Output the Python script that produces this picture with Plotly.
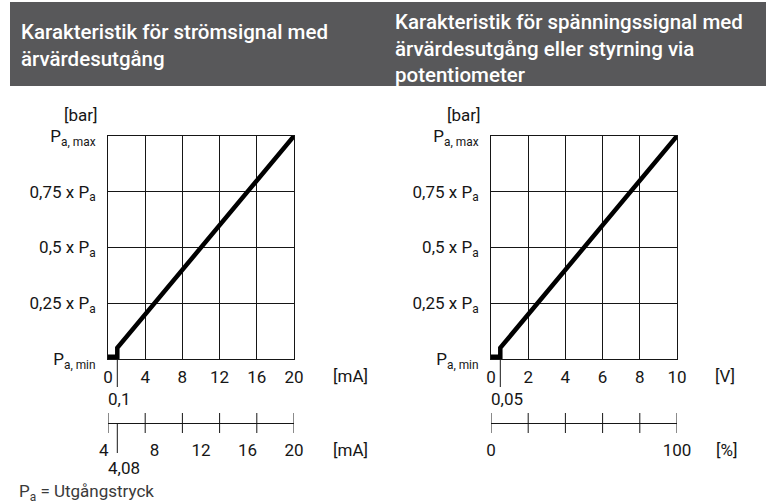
import plotly.graph_objects as go

W, H = 766, 504

# ---- data -------------------------------------------------------------
pressure_ticks = [0, 0.25, 0.5, 0.75, 1]
pressure_labels = ["P<sub>a, min</sub>", "0,25 x P<sub>a</sub>", "0,5 x P<sub>a</sub>",
                   "0,75 x P<sub>a</sub>", "P<sub>a, max</sub>"]

ma_ticks = [0, 4, 8, 12, 16, 20]
ma_labels = ["0", "4", "8", "12", "16", "20"]
ma_live_ticks = [4, 8, 12, 16, 20]
ma_live_labels = ["4\u00a0\u00a0", "8", "12", "16", "20"]

volt_ticks = [0, 2, 4, 6, 8, 10]
volt_labels = ["0", "2", "4", "6", "8", "10"]
pct_ticks = [0, 100]
pct_labels = ["0", "100"]

# characteristic curves (threshold step drawn enlarged, as in the data sheet)
ma_curve_x = [0, 1, 1, 20]
ma_curve_p = [0.01, 0.01, 0.05, 1]
volt_curve_x = [0, 0.5, 0.5, 10]
volt_curve_p = [0.01, 0.01, 0.05, 1]

ma_threshold_label = "0,1"
ma_live_threshold_label = "4,08"
volt_threshold_label = "0,05"

# ---- helpers ----------------------------------------------------------
def fx(px):
    return px / W


def fy(py):
    return 1 - py / H


INK = "#161616"
FONT = "Roboto, 'Open Sans', sans-serif"
TITLE_FONT = "Roboto, 'Open Sans', sans-serif"

fig = go.Figure()

fig.add_trace(go.Scatter(x=ma_curve_x, y=ma_curve_p, mode="lines",
                         line=dict(color="black", width=4.5),
                         xaxis="x", yaxis="y", hoverinfo="skip", showlegend=False))
fig.add_trace(go.Scatter(x=volt_curve_x, y=volt_curve_p, mode="lines",
                         line=dict(color="black", width=4.5),
                         xaxis="x2", yaxis="y2", hoverinfo="skip", showlegend=False))
# empty traces to bring the secondary scales to life
fig.add_trace(go.Scatter(x=[], y=[], xaxis="x3", yaxis="y", showlegend=False))
fig.add_trace(go.Scatter(x=[], y=[], xaxis="x4", yaxis="y2", showlegend=False))

left_dom = [fx(108), fx(294)]
right_dom = [fx(491), fx(677)]
y_dom = [fy(359), fy(136)]

grid_axis = dict(showgrid=True, gridcolor=INK, gridwidth=1, showline=True,
                 linecolor=INK, linewidth=1, mirror=True, zeroline=False,
                 ticks="", tickfont=dict(family=FONT, size=17, color=INK),
                 fixedrange=True, automargin=False)

fig.update_layout(
    width=W, height=H, autosize=False, margin=dict(l=0, r=0, t=0, b=0, pad=0),
    paper_bgcolor="white", plot_bgcolor="white", showlegend=False,
    xaxis=dict(grid_axis, domain=left_dom, range=[0, 20], anchor="y",
               tickmode="array", tickvals=ma_ticks, ticktext=ma_labels,
               ticklabelstandoff=3),
    yaxis=dict(grid_axis, domain=y_dom, range=[0, 1], anchor="x",
               tickmode="array", tickvals=pressure_ticks, ticktext=pressure_labels,
               ticklabelstandoff=8),
    xaxis2=dict(grid_axis, domain=right_dom, range=[0, 10], anchor="y2",
                tickmode="array", tickvals=volt_ticks, ticktext=volt_labels,
                ticklabelstandoff=3),
    yaxis2=dict(grid_axis, domain=y_dom, range=[0, 1], anchor="x2",
                tickmode="array", tickvals=pressure_ticks, ticktext=pressure_labels,
                ticklabelstandoff=8),
    xaxis3=dict(overlaying="x", anchor="free", position=fy(423), range=[4, 20],
                showgrid=False, zeroline=False, showline=True, linecolor=INK,
                linewidth=1, ticks="", tickmode="array", tickvals=ma_live_ticks,
                ticktext=ma_live_labels, ticklabelstandoff=12, automargin=False,
                tickfont=dict(family=FONT, size=17, color=INK), side="bottom"),
    xaxis4=dict(overlaying="x2", anchor="free", position=fy(423), range=[0, 100],
                showgrid=False, zeroline=False, showline=True, linecolor=INK,
                linewidth=1, ticks="", tickmode="array", tickvals=pct_ticks,
                ticktext=pct_labels, ticklabelstandoff=12, automargin=False,
                tickfont=dict(family=FONT, size=17, color=INK), side="bottom"),
)

shapes = []
# dark heading band
shapes.append(dict(type="rect", xref="paper", yref="paper", x0=fx(10), x1=1,
                   y0=fy(86), y1=fy(2), fillcolor="#58585a", line=dict(width=0),
                   layer="below"))
# tick marks on the secondary scales, at the main grid positions
for v in ma_ticks:
    shapes.append(dict(type="line", xref="x", yref="paper", x0=v, x1=v,
                       y0=fy(413), y1=fy(433), line=dict(color=INK, width=1)))
for v in volt_ticks:
    shapes.append(dict(type="line", xref="x2", yref="paper", x0=v, x1=v,
                       y0=fy(413), y1=fy(433), line=dict(color=INK, width=1)))
# threshold markers below the axes
shapes.append(dict(type="line", xref="x", yref="paper", x0=ma_curve_x[1], x1=ma_curve_x[1],
                   y0=fy(359), y1=fy(387), line=dict(color=INK, width=1)))
shapes.append(dict(type="line", xref="x", yref="paper", x0=ma_curve_x[1], x1=ma_curve_x[1],
                   y0=fy(423), y1=fy(453), line=dict(color=INK, width=1)))
shapes.append(dict(type="line", xref="x2", yref="paper", x0=volt_curve_x[1], x1=volt_curve_x[1],
                   y0=fy(359), y1=fy(387), line=dict(color=INK, width=1)))
fig.update_layout(shapes=shapes)

txt = dict(family=FONT, size=17, color=INK)
title_font = dict(family=TITLE_FONT, size=20.5, color="white", weight=500)
ann = []
# headings
ann.append(dict(xref="paper", yref="paper", x=fx(19), y=fy(45), xanchor="left",
                yanchor="middle", align="left", showarrow=False,
                text="Karakteristik för strömsignal med<br>ärvärdesutgång",
                font=title_font))
ann.append(dict(xref="paper", yref="paper", x=fx(393), y=fy(48), xanchor="left",
                yanchor="middle", align="left", showarrow=False,
                text="Karakteristik för spänningssignal med<br>ärvärdesutgång eller styrning via<br>potentiometer",
                font=title_font))
# units
for x, y, t in [(100, 115, "[bar]"), (483, 115, "[bar]")]:
    ann.append(dict(xref="paper", yref="paper", x=fx(x), y=fy(y), xanchor="right",
                    yanchor="middle", showarrow=False, text=t, font=txt))
for x, y, t in [(350, 376, "[mA]"), (350, 450, "[mA]"), (725, 376, "[V]"), (726, 450, "[%]")]:
    ann.append(dict(xref="paper", yref="paper", x=fx(x), y=fy(y), xanchor="center",
                    yanchor="middle", showarrow=False, text=t, font=txt))
# threshold values
ann.append(dict(xref="paper", yref="paper", x=fx(106), y=fy(399), xanchor="left",
                yanchor="middle", showarrow=False, text=ma_threshold_label, font=txt))
ann.append(dict(xref="paper", yref="paper", x=fx(106), y=fy(468), xanchor="left",
                yanchor="middle", showarrow=False, text=ma_live_threshold_label, font=txt))
ann.append(dict(xref="paper", yref="paper", x=fx(489), y=fy(399), xanchor="left",
                yanchor="middle", showarrow=False, text=volt_threshold_label, font=txt))
# footnote
ann.append(dict(xref="paper", yref="paper", x=fx(17), y=fy(492), xanchor="left",
                yanchor="middle", showarrow=False, text="P<sub>a</sub> = Utgångstryck",
                font=dict(family=FONT, size=17, color="#3a3a3a")))
fig.update_layout(annotations=ann)

fig.write_html("out.html", config={"responsive": False, "displayModeBar": False})
